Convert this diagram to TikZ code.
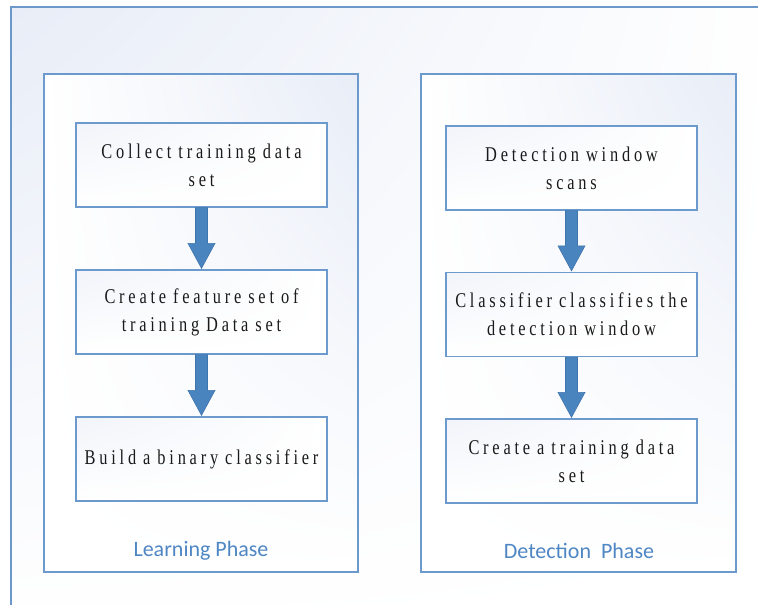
\documentclass[tikz,border=0pt]{standalone}
\usepackage{fontspec}
\setmainfont{Liberation Serif}
\newfontfamily\boxfont[FakeStretch=0.78,LetterSpace=18]{Liberation Serif}
\newfontfamily\labfont{Carlito}
\usetikzlibrary{calc,shadings}
\definecolor{boxborder}{HTML}{6C9ACC}
\definecolor{outerborder}{HTML}{6B98C8}
\definecolor{arrowfill}{HTML}{4A84BF}
\definecolor{arrowdraw}{HTML}{3F75AD}
\definecolor{labcol}{HTML}{4F86C4}
\definecolor{boxtext}{HTML}{1A1A1A}
\definecolor{tint}{HTML}{E8EDF7}
\definecolor{tintlight}{HTML}{F1F4FA}
\tikzset{
  x=1pt, y=-1pt,
  panel/.style={draw=boxborder, line width=1.3pt, inner sep=0pt,
    upper left=white, upper right=tint, lower left=white, lower right=white},
  stepbox/.style={draw=boxborder, line width=1.3pt, inner sep=2pt,
    minimum width=251pt, minimum height=84pt, text width=246pt, align=center,
    text=boxtext, font=\boxfont\fontsize{21}{28}\selectfont,
    upper left=tintlight, upper right=white, lower left=white, lower right=white},
  phaselabel/.style={text=labcol, font=\labfont\fontsize{22}{24}\selectfont, inner sep=0pt},
  blockarrow/.style={fill=arrowfill, draw=arrowdraw, line width=0.6pt, line join=miter}
}
\newcommand{\blockarr}[2]{%
  \path[blockarrow] ($(#1.south)+(-6,0)$) -- ($(#2.north)+(-6,-26)$) -- ($(#2.north)+(-13.5,-26)$)
    -- ($(#2.north)+(0,-1)$) -- ($(#2.north)+(13.5,-26)$) -- ($(#2.north)+(6,-26)$)
    -- ($(#1.south)+(6,0)$) -- cycle;}
\begin{document}
\begin{tikzpicture}
\useasboundingbox (0,0) rectangle (758,605);
\clip (0,0) rectangle (758,605);
% outer frame
\shade[upper left=tint, upper right=white, lower left=white, lower right=white] (11,7) rectangle (780,630);
\draw[outerborder, line width=1.6pt] (11,630) -- (11,7) -- (780,7);
% panels
\node[panel, minimum width=314pt, minimum height=498pt, shade] (lp) at (201,323) {};
\node[panel, minimum width=315pt, minimum height=498pt, shade] (dp) at (578.5,323) {};
\node[phaselabel] (lpl) at (201,551) {Learning Phase};
\node[phaselabel] (dpl) at (579,551) {Detection\ \ Phase};
% left column
\node[stepbox, shade] (l1) at (201.5,165) {Collect training data\\set};
\node[stepbox, shade] (l2) at (201.5,312) {Create feature set of\\training Data set};
\node[stepbox, shade] (l3) at (201.5,459) {Build a binary classifier};
% right column
\node[stepbox, shade] (r1) at (571.5,168) {Detection window\\scans};
\node[stepbox, shade] (r2) at (571.5,314.5) {Classifier classifies the\\detection window};
\node[stepbox, shade] (r3) at (571.5,461) {Create a training data\\set};
% arrows
\blockarr{l1}{l2}
\blockarr{l2}{l3}
\blockarr{r1}{r2}
\blockarr{r2}{r3}
\end{tikzpicture}
\end{document}
